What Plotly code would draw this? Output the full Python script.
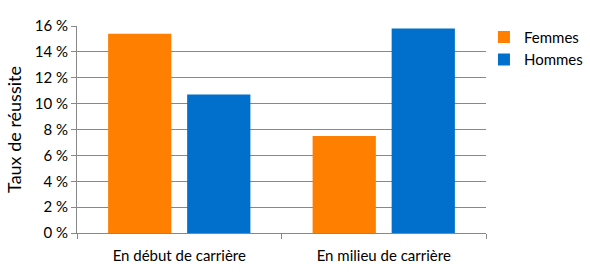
import plotly.graph_objects as go

categories = ["En début de carrière", "En milieu de carrière"]
femmes = [15.4, 7.5]
hommes = [10.7, 15.8]
tick_vals = [0, 2, 4, 6, 8, 10, 12, 14, 16]
tick_text = ["0 %", "2 %", "4 %", "6 %", "8 %", "10 %", "12 %", "14 %", "16 %"]

fig = go.Figure()
fig.add_trace(go.Bar(name="Femmes", x=categories, y=femmes, marker_color="#FF7F00",
                     marker_line_width=0, legendgroup="f"))
fig.add_trace(go.Bar(name="Hommes", x=categories, y=hommes, marker_color="#0070CC",
                     marker_line_width=0, legendgroup="h"))

font = "Lato, 'Open Sans', sans-serif"
fig.update_layout(
    width=590, height=275,
    margin=dict(l=77, r=104, t=26, b=42, autoexpand=False),
    barmode="group", bargap=0.227, bargroupgap=0.2,
    plot_bgcolor="white", paper_bgcolor="white",
    font=dict(family=font, size=15, color="#000000"),
    showlegend=True,
    legend=dict(x=0.995, y=1.025, xanchor="left", yanchor="top",
                font=dict(size=15, family=font), itemsizing="constant",
                tracegroupgap=4, traceorder="normal", bgcolor="rgba(0,0,0,0)"),
)
fig.update_xaxes(
    showline=True, linecolor="#888888", linewidth=1,
    ticks="outside", tickson="boundaries", ticklen=5, tickcolor="#888888",
    tickfont=dict(size=15, family=font), ticklabelstandoff=9,
    showgrid=False,
)
fig.update_yaxes(
    range=[0, 16], tickvals=tick_vals, ticktext=tick_text,
    showline=True, linecolor="#888888", linewidth=1,
    ticks="outside", ticklen=5, tickcolor="#888888",
    showgrid=True, gridcolor="#888888", gridwidth=1,
    zeroline=False,
    tickfont=dict(size=15, family=font),
    title=dict(text="Taux de réussite", font=dict(size=18, family=font), standoff=8),
)

fig.write_html("out.html")
